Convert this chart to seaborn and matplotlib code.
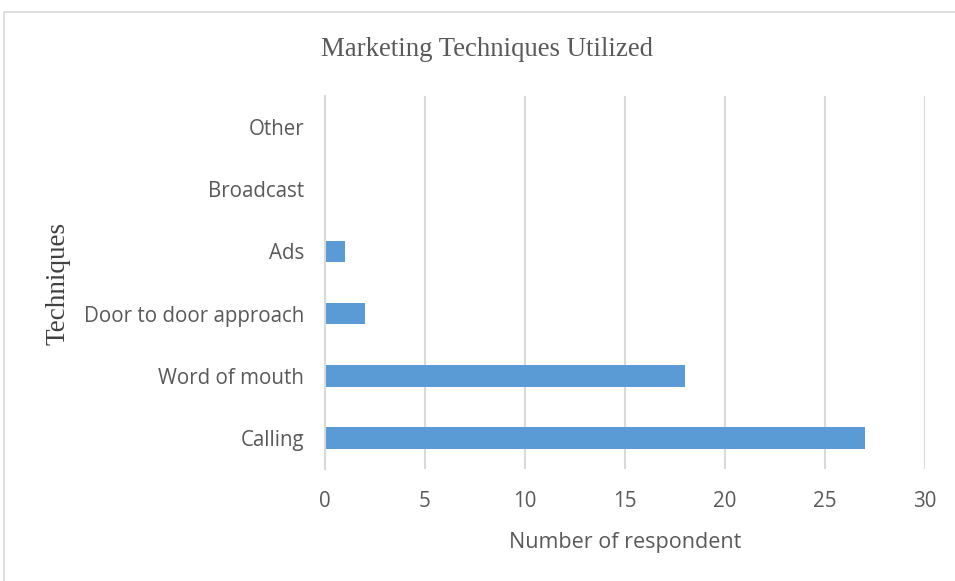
import matplotlib
matplotlib.use("Agg")
import matplotlib.pyplot as plt
import seaborn as sns
import pandas as pd
from matplotlib.patches import Rectangle

# Survey results: marketing techniques used
techniques = ["Other", "Broadcast", "Ads", "Door to door approach", "Word of mouth", "Calling"]
respondents = [0, 0, 1, 2, 18, 27]
x_ticks = [0, 5, 10, 15, 20, 25, 30]

df = pd.DataFrame({"Technique": techniques, "Respondents": respondents})

sns.set_theme(style="white")
plt.rcParams["font.family"] = ["Open Sans", "DejaVu Sans"]

fig = plt.figure(figsize=(9.55, 5.81), dpi=100)
ax = fig.add_axes([0.3403, 0.1928, 0.6283, 0.642])

sns.barplot(data=df, y="Technique", x="Respondents", order=techniques,
            orient="h", color="#5B9BD5", saturation=1, width=0.35,
            linewidth=0, ax=ax)

ax.set_xlim(0, 30)
ax.set_xticks(x_ticks)
ax.set_xticklabels([str(t) for t in x_ticks])
ax.grid(axis="x", color="#d9d9d9", linewidth=1.5)
ax.set_axisbelow(True)
for side in ["top", "right", "bottom"]:
    ax.spines[side].set_visible(False)
ax.spines["left"].set_color("#d9d9d9")
ax.spines["left"].set_linewidth(1.5)
ax.tick_params(axis="both", length=0, labelsize=14.8, colors="#595959")
ax.tick_params(axis="y", pad=15)
ax.tick_params(axis="x", pad=16)

ax.set_xlabel("Number of respondent", fontsize=15.5, color="#595959", labelpad=14)
ax.set_ylabel("")
fig.text(0.061, 0.513, "Techniques", rotation=90, ha="center", va="center",
         fontsize=19.5, color="#404040", family="Liberation Serif")
fig.text(0.510, 0.914, "Marketing Techniques Utilized", ha="center", va="center",
         fontsize=19.3, color="#595959", family="Liberation Serif")

# light chart-area frame
fig.patches.append(Rectangle((4 / 955, -0.1), 1.2, 1.1 - 12 / 581, transform=fig.transFigure,
                             fill=False, edgecolor="#d9d9d9", linewidth=1.2))

fig.savefig("out.png", dpi=100, facecolor="white")
